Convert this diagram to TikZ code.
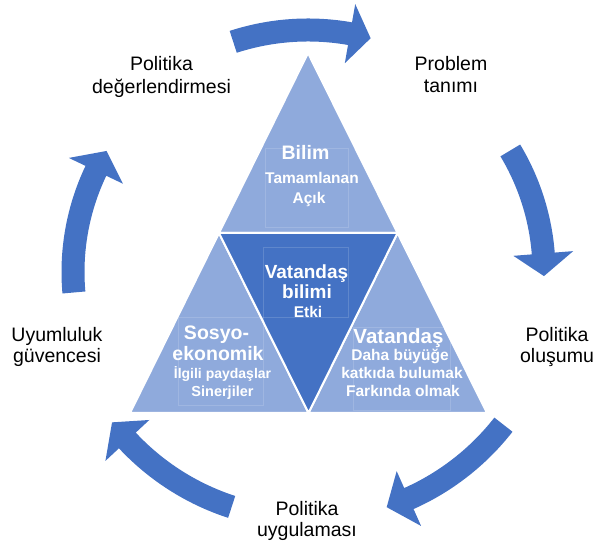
\documentclass[tikz,border=0pt]{standalone}
\usepackage{fontspec}
\setmainfont{Liberation Sans}
\definecolor{cycleblue}{HTML}{4472C4}
\definecolor{paleblue}{HTML}{8FAADC}
\definecolor{deepblue}{HTML}{4472C4}

\begin{document}
\begin{tikzpicture}[x=1pt, y=1pt,
  lbl/.style={anchor=base, font=\fontsize{19.5}{22.5}\selectfont},
  head/.style={anchor=base, text=white, font=\bfseries\fontsize{19.5}{22}\selectfont},
  sub/.style={anchor=base, text=white, font=\bfseries\fontsize{15.5}{18}\selectfont},
  tri/.style={draw=white, line width=2pt, line join=miter},
  tbox/.style={draw=white, draw opacity=0.15, line width=0.6pt}]
  \useasboundingbox (0,0) rectangle (605,556);
  \coordinate (C) at (308,284);

  % triangle corners
  \coordinate (A) at (308,503);
  \coordinate (BL) at (130,143);
  \coordinate (BR) at (487,143);
  \coordinate (ML) at (219,323);
  \coordinate (MR) at (397.5,323);
  \coordinate (MB) at (308.5,143);

  \filldraw[tri, fill=paleblue] (A) -- (ML) -- (MR) -- cycle;
  \filldraw[tri, fill=paleblue] (ML) -- (BL) -- (MB) -- cycle;
  \filldraw[tri, fill=paleblue] (MR) -- (MB) -- (BR) -- cycle;
  \filldraw[tri, fill=deepblue] (ML) -- (MR) -- (MB) -- cycle;

  \draw[tbox] (265,408) rectangle (348,329);
  \draw[tbox] (263,309) rectangle (348,239);
  \draw[tbox] (178,239) rectangle (263,151);
  \draw[tbox] (353,229) rectangle (450,146);

  % curved arrows: start / head base / tip / radius
  \foreach \s/\b/\t/\r in {108/80/75/242, 31/4.5/-1/236, -38/-66/-71.5/248,
                           -108/-137/-142.5/247, 185/154.5/149/235} {
    \pgfmathsetmacro\ro{\r+11.5}
    \pgfmathsetmacro\ri{\r-11.5}
    \pgfmathsetmacro\ho{\r+30}
    \pgfmathsetmacro\hi{\r-30}
    \fill[cycleblue] ([shift={(C)}]\s:\ro) arc[start angle=\s, end angle=\b, radius=\ro]
      -- ([shift={(C)}]\b:\ho) -- ([shift={(C)}]\t:\r) -- ([shift={(C)}]\b:\hi)
      -- ([shift={(C)}]\b:\ri) arc[start angle=\b, end angle=\s, radius=\ri] -- cycle;
  }

  % cycle labels
  \node[lbl] (eval1) at (161.5,485.3) {Politika};
  \node[lbl] (eval2) at (161.5,462.7) {değerlendirmesi};
  \node[lbl] (prob1) at (451,485.3) {Problem};
  \node[lbl] (prob2) at (451,463) {tanımı};
  \node[lbl] (form1) at (557,214.3) {Politika};
  \node[lbl] (form2) at (557,193) {oluşumu};
  \node[lbl] (impl1) at (307,40.3) {Politika};
  \node[lbl] (impl2) at (307,19) {uygulaması};
  \node[lbl] (comp1) at (57,214.3) {Uyumluluk};
  \node[lbl] (comp2) at (57,193) {güvencesi};

  % triangle texts
  \node[head] (sci) at (305.5,396.7) {Bilim};
  \node[sub] (sci1) at (312,372.7) {Tamamlanan};
  \node[sub] (sci2) at (309,352) {Açık};

  \node[head, font=\bfseries\fontsize{19}{22}\selectfont] (cs1) at (306.5,277.7) {Vatandaş};
  \node[head, font=\bfseries\fontsize{19}{22}\selectfont] (cs2) at (307,257.7) {bilimi};
  \node[sub] (cs3) at (308,238.7) {Etki};

  \node[head] (soc1) at (216.5,216) {Sosyo-};
  \node[head] (soc2) at (218,195.3) {ekonomik};
  \node[sub, font=\bfseries\fontsize{14}{18}\selectfont] (soc3) at (222.5,177.7) {İlgili paydaşlar};
  \node[sub, font=\bfseries\fontsize{14.5}{18}\selectfont] (soc4) at (222.5,159.3) {Sinerjiler};

  \node[head, font=\bfseries\fontsize{20.5}{22}\selectfont] (cit1) at (398.5,212.7) {Vatandaş};
  \node[sub] (cit2) at (400,195) {Daha büyüğe};
  \node[sub] (cit3) at (402,177.7) {katkıda bulumak};
  \node[sub] (cit4) at (403,159.3) {Farkında olmak};
\end{tikzpicture}
\end{document}
